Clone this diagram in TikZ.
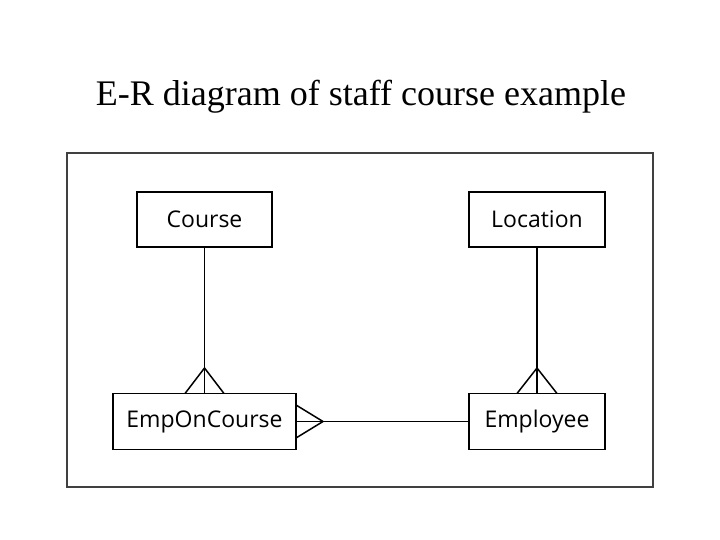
\documentclass[tikz,border=0pt]{standalone}
\usepackage{fontspec}
\setmainfont{Liberation Serif}
\newfontfamily\boxfont{Open Sans}
\begin{document}
\begin{tikzpicture}[x=1pt,y=-1pt,
  ent/.style={draw,line width=1.5pt,minimum height=55pt,font=\boxfont\fontsize{23}{26}\selectfont,inner sep=0pt},
  ln/.style={line width=1.5pt}]
\useasboundingbox (0,0) rectangle (720,540);
\node[font=\fontsize{36}{40}\selectfont] (title) at (361,97) {E-R diagram of staff course example};
\draw[line width=1.5pt,draw=black!75] (67,153) rectangle (653,487);
\node[ent,minimum width=135pt] (course) at (204.5,219.5) {Course};
\node[ent,minimum width=136pt] (loc) at (537,219.5) {Location};
\node[ent,minimum width=183pt,minimum height=56pt] (eoc) at (204.5,421.5) {EmpOnCourse};
\node[ent,minimum width=136pt,minimum height=56pt] (emp) at (537,421.5) {Employee};
\coordinate (a1) at (204.5,368);
\coordinate (a2) at (537,368);
\coordinate (a3) at (323,421.5);
\draw[ln] (course.south) -- (eoc.north);
\draw[ln] (185,393.5) -- (a1) -- (224,393.5);
\draw[ln] (loc.south) -- (emp.north);
\draw[ln] (517,393.5) -- (a2) -- (557,393.5);
\draw[ln] (eoc.east) -- (emp.west);
\draw[ln] (296,405) -- (a3) -- (296,438);
\end{tikzpicture}
\end{document}
